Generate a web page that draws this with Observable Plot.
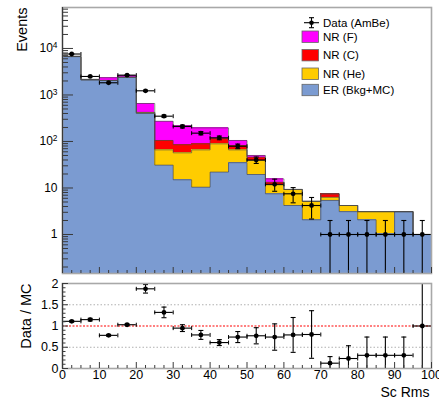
<!DOCTYPE html>
<html>
<head>
<meta charset="utf-8">
<script src="https://cdn.jsdelivr.net/npm/d3@7"></script>
<script src="https://cdn.jsdelivr.net/npm/@observablehq/plot@0.6"></script>
<style>
  html, body { margin: 0; padding: 0; background: #fff; }
  #wrap { position: relative; width: 439px; height: 401px; overflow: hidden; font-family: "Liberation Sans", Arial, Helvetica, sans-serif; }
  #top, #bot { position: absolute; left: 0; }
  #top { top: 0; }
  #bot { top: 274px; }
  #legend { position: absolute; left: 0; top: 0; width: 439px; height: 120px; pointer-events: none; }
</style>
</head>
<body>
<div id="wrap">
  <div id="top"></div>
  <div id="bot"></div>
  <svg id="legend" width="439" height="120"></svg>
</div>
<script>
// ---------------- data ----------------
const binLow = [0, 5, 10, 15, 20, 25, 30, 35, 40, 45, 50, 55, 60, 65, 70, 75, 80, 85, 90, 95];
const binWidth = 5;
const erBkgMC = [6700, 2120, 2050, 2400, 400, 31, 15, 10.4, 22, 35, 19.5, 7.5, 4.2, 2.07, 5.4, 3.1, 2.07, 1.03, 3.1, 1.0];
const nrHe    = [0, 0, 0, 0, 15, 35, 42, 55.6, 67, 31, 19.5, 4.2, 5.1, 3.1, 0.9, 1.1, 1.03, 2.07, 0, 0];
const nrC     = [0, 0, 0, 0, 8, 39, 28, 23, 26, 16, 7, 1.6, 0, 0, 1.2, 0, 0, 0, 0, 0];
const nrF     = [150, 50, 300, 190, 233, 167, 133, 107, 81, 23, 4, 2.4, 0, 0, 0, 0, 0, 0, 0, 0];
const dataAmBe = [7600, 2500, 1830, 2670, 1230, 350, 210, 151, 120, 79, 40, 12, 7.5, 4.2, 1, 1, 1, 1, 1, 1];
const dataErr  = [87, 50, 43, 52, 35, 19, 14.5, 12.3, 11, 9, 6.3, 3.5, 2.7, 2.05, 1, 1, 1, 1, 1, 1];
const ratio    = [1.11, 1.15, 0.78, 1.03, 1.875, 1.32, 0.95, 0.79, 0.61, 0.74, 0.77, 0.74, 0.79, 0.8, 0.125, 0.235, 0.31, 0.31, 0.31, 1.0];
const ratioErr = [0.02, 0.03, 0.02, 0.02, 0.1, 0.125, 0.08, 0.105, 0.07, 0.13, 0.19, 0.31, 0.41, 0.56, 0.155, 0.3, 0.43, 0.43, 0.43, 1.05];

const yTickValues = [1, 10, 100, 1000, 10000];
const yTickLabels = ["1", "10", "10^2", "10^3", "10^4"];
const xTickValues = [0, 10, 20, 30, 40, 50, 60, 70, 80, 90, 100];
const xTickLabels = ["0", "10", "20", "30", "40", "50", "60", "70", "80", "90", "100"];
const rTickValues = [0, 0.5, 1, 1.5, 2];
const rTickLabels = ["0", "0.5", "1", "1.5", "2"];

const seriesNames = ["Data (AmBe)", "NR (F)", "NR (C)", "NR (He)", "ER (Bkg+MC)"];
const seriesColors = ["#000000", "#ff00ff", "#ff0000", "#ffcc00", "#7b9bd1"];

// ---------------- styling constants ----------------
const FONT = "\"Liberation Sans\", Arial, Helvetica, sans-serif";
const W = 439, ML = 62, MR = 8;
const yMin = 0.145, yMax = 76000;
const idx = binLow.map((_, i) => i);

// stacking
const s0 = idx.map(i => erBkgMC[i]);
const s1 = idx.map(i => s0[i] + nrHe[i]);
const s2 = idx.map(i => s1[i] + nrC[i]);
const s3 = idx.map(i => s2[i] + nrF[i]);
const layers = [
  {bottom: idx.map(() => yMin), top: s0, color: seriesColors[4]},
  {bottom: s0, top: s1, color: seriesColors[3]},
  {bottom: s1, top: s2, color: seriesColors[2]},
  {bottom: s2, top: s3, color: seriesColors[1]}
];
function stepPoints(top) {
  const pts = idx.map(i => ({x: binLow[i], y: top[i]}));
  pts.push({x: binLow[binLow.length - 1] + binWidth, y: top[top.length - 1]});
  return pts;
}

// custom symbols for error bar caps
const hbar = {draw(ctx, size) { const r = Math.sqrt(size / Math.PI); ctx.moveTo(-r, 0); ctx.lineTo(r, 0); }};
const vbar = {draw(ctx, size) { const r = Math.sqrt(size / Math.PI); ctx.moveTo(0, -r); ctx.lineTo(0, r); }};

// tick helpers
const logMinor = [];
for (let e = -1; e <= 4; e++) for (let m = 2; m <= 9; m++) { const v = m * Math.pow(10, e); if (v > yMin && v < yMax) logMinor.push(v); }
const xMinor = d3.range(0, 100.01, 2.5).filter(v => v % 10 !== 0);
const rMinor = d3.range(0, 2.001, 0.1).map(v => +v.toFixed(2)).filter(v => Math.abs(v * 2 - Math.round(v * 2)) > 1e-6);

// ---------------- top panel ----------------
const topH = 274, topMT = 7, topMB = 1;
const topInnerW = W - ML - MR, topInnerH = topH - topMT - topMB;
const center = i => binLow[i] + binWidth / 2;

const topMarks = [];
layers.forEach(L => {
  topMarks.push(Plot.rect(idx, {x1: i => binLow[i], x2: i => binLow[i] + binWidth, y1: i => L.bottom[i], y2: i => L.top[i], fill: L.color, shapeRendering: "crispEdges"}));
});
layers.forEach(L => {
  topMarks.push(Plot.line(stepPoints(L.top), {x: "x", y: "y", curve: "step-after", stroke: "#4a4a4a", strokeWidth: 0.9, strokeOpacity: 0.75}));
});
// data error bars
topMarks.push(Plot.ruleY(idx, {y: i => dataAmBe[i], x1: i => binLow[i], x2: i => binLow[i] + binWidth, stroke: "#000", strokeWidth: 1.1}));
topMarks.push(Plot.ruleX(idx, {x: center, y1: i => Math.max(dataAmBe[i] - dataErr[i], 1e-3), y2: i => dataAmBe[i] + dataErr[i], stroke: "#000", strokeWidth: 1.1, clip: true}));
topMarks.push(Plot.dot(idx, {x: center, y: i => dataAmBe[i] + dataErr[i], symbol: hbar, r: 2.5, stroke: "#000", strokeWidth: 1.1}));
topMarks.push(Plot.dot(idx.filter(i => dataAmBe[i] - dataErr[i] > yMin), {x: center, y: i => dataAmBe[i] - dataErr[i], symbol: hbar, r: 2.5, stroke: "#000", strokeWidth: 1.1}));
topMarks.push(Plot.dot(idx, {x: i => binLow[i], y: i => dataAmBe[i], symbol: vbar, r: 2, stroke: "#000", strokeWidth: 1}));
topMarks.push(Plot.dot(idx, {x: i => binLow[i] + binWidth, y: i => dataAmBe[i], symbol: vbar, r: 2, stroke: "#000", strokeWidth: 1}));
topMarks.push(Plot.dot(idx, {x: center, y: i => dataAmBe[i], r: 2.4, fill: "#000"}));
// frame
topMarks.push(Plot.frame({stroke: "#a8a8a8", strokeWidth: 1.6}));
topMarks.push(Plot.ruleX([0], {stroke: "#3a3a3a", strokeWidth: 1.2}));
// inward ticks
topMarks.push(Plot.tickY(yTickValues, {y: d => d, insetRight: topInnerW - 11, stroke: "#3a3a3a"}));
topMarks.push(Plot.tickY(logMinor, {y: d => d, insetRight: topInnerW - 6, stroke: "#3a3a3a"}));
topMarks.push(Plot.tickX(xTickValues, {x: d => d, insetTop: topInnerH - 6, stroke: "#3a3a3a"}));
topMarks.push(Plot.tickX(xMinor, {x: d => d, insetTop: topInnerH - 3, stroke: "#3a3a3a"}));
// labels
const yLabMap = new Map(yTickValues.map((v, i) => [v, yTickLabels[i]]));
topMarks.push(Plot.axisY({ticks: yTickValues, tickFormat: d => yLabMap.get(d), tickSize: 0, tickPadding: 5, fontSize: 12, anchor: "left", label: null}));
topMarks.push(Plot.text(["Events"], {frameAnchor: "top-left", rotate: -90, textAnchor: "end", dx: -46, fontSize: 14.5}));

const topPlot = Plot.plot({
  width: W, height: topH, marginTop: topMT, marginBottom: topMB, marginLeft: ML, marginRight: MR,
  x: {domain: [0, 100], axis: null},
  y: {type: "log", domain: [yMin, yMax], axis: null},
  style: {fontFamily: FONT, background: "transparent", color: "#000", overflow: "visible"},
  marks: topMarks
});
// superscripts for 10^n labels
d3.select(topPlot).selectAll("text").each(function() {
  const t = this.textContent;
  const m = /^10\^(\d+)$/.exec(t);
  if (m) {
    const sel = d3.select(this);
    sel.text("10");
    sel.append("tspan").attr("dy", "-0.5em").attr("font-size", "0.7em").text(m[1]);
  }
});
document.getElementById("top").appendChild(topPlot);

// ---------------- bottom panel ----------------
const botH = 127, botMT = 9, botMB = 33;
const botInnerH = botH - botMT - botMB;
const xLabMap = new Map(xTickValues.map((v, i) => [v, xTickLabels[i]]));
const rLabMap = new Map(rTickValues.map((v, i) => [v, rTickLabels[i]]));
const botMarks = [
  Plot.ruleY([0.5, 1.5], {stroke: "#b0b0b0", strokeDasharray: "1.5,2", strokeWidth: 1}),
  Plot.ruleY([1], {stroke: "#ff0000", strokeDasharray: "2,1.5", strokeWidth: 1.1}),
  Plot.ruleY(idx, {y: i => ratio[i], x1: i => binLow[i], x2: i => binLow[i] + binWidth, stroke: "#000", strokeWidth: 1.1}),
  Plot.ruleX(idx, {x: center, y1: i => Math.max(ratio[i] - ratioErr[i], 0), y2: i => Math.min(ratio[i] + ratioErr[i], 2), stroke: "#000", strokeWidth: 1.1}),
  Plot.dot(idx.filter(i => ratio[i] + ratioErr[i] < 2), {x: center, y: i => ratio[i] + ratioErr[i], symbol: hbar, r: 2.5, stroke: "#000", strokeWidth: 1.1}),
  Plot.dot(idx.filter(i => ratio[i] - ratioErr[i] > 0), {x: center, y: i => ratio[i] - ratioErr[i], symbol: hbar, r: 2.5, stroke: "#000", strokeWidth: 1.1}),
  Plot.dot(idx, {x: i => binLow[i], y: i => ratio[i], symbol: vbar, r: 2, stroke: "#000", strokeWidth: 1}),
  Plot.dot(idx, {x: i => binLow[i] + binWidth, y: i => ratio[i], symbol: vbar, r: 2, stroke: "#000", strokeWidth: 1}),
  Plot.dot(idx, {x: center, y: i => ratio[i], r: 2.4, fill: "#000"}),
  Plot.frame({stroke: "#a8a8a8", strokeWidth: 1.6}),
  Plot.ruleX([0], {stroke: "#3a3a3a", strokeWidth: 1.2}),
  Plot.tickY(rTickValues, {y: d => d, insetRight: topInnerW - 6, stroke: "#3a3a3a"}),
  Plot.tickY(rMinor, {y: d => d, insetRight: topInnerW - 3.5, stroke: "#3a3a3a"}),
  Plot.tickX(xTickValues, {x: d => d, insetTop: botInnerH - 6, stroke: "#3a3a3a"}),
  Plot.tickX(xMinor, {x: d => d, insetTop: botInnerH - 3, stroke: "#3a3a3a"}),
  Plot.axisY({ticks: rTickValues, tickFormat: d => rLabMap.get(d), tickSize: 0, tickPadding: 4, fontSize: 12.5, anchor: "left", label: null}),
  Plot.axisX({ticks: xTickValues, tickFormat: d => xLabMap.get(d), tickSize: 0, tickPadding: 2, fontSize: 12.5, anchor: "bottom", label: null}),
  Plot.text(["Data / MC"], {frameAnchor: "top-left", rotate: -90, textAnchor: "end", dx: -41.5, fontSize: 14.5}),
  Plot.text(["Sc Rms"], {frameAnchor: "bottom-right", textAnchor: "end", lineAnchor: "bottom", dx: -2, dy: 28, fontSize: 14})
];
const botPlot = Plot.plot({
  width: W, height: botH, marginTop: botMT, marginBottom: botMB, marginLeft: ML, marginRight: MR,
  x: {domain: [0, 100], axis: null},
  y: {domain: [0, 2], axis: null},
  style: {fontFamily: FONT, background: "transparent", color: "#000", overflow: "visible"},
  marks: botMarks
});
document.getElementById("bot").appendChild(botPlot);

// ---------------- legend ----------------
const leg = d3.select("#legend");
const legX = 302, legTextX = 323;
const legRows = [22.7, 36.7, 55.2, 73.7, 90.0];
leg.style("font-family", FONT);
const g0 = leg.append("g").attr("stroke", "#000").attr("stroke-width", 1.1);
g0.append("line").attr("x1", legX + 2).attr("x2", legX + 17).attr("y1", legRows[0]).attr("y2", legRows[0]);
g0.append("line").attr("x1", legX + 9.5).attr("x2", legX + 9.5).attr("y1", legRows[0] - 5).attr("y2", legRows[0] + 5);
g0.append("line").attr("x1", legX + 7).attr("x2", legX + 12).attr("y1", legRows[0] - 5).attr("y2", legRows[0] - 5);
g0.append("line").attr("x1", legX + 7).attr("x2", legX + 12).attr("y1", legRows[0] + 5).attr("y2", legRows[0] + 5);
leg.append("circle").attr("cx", legX + 9.5).attr("cy", legRows[0]).attr("r", 2.3).attr("fill", "#000");
seriesNames.forEach((name, k) => {
  if (k > 0) {
    leg.append("rect").attr("x", legX).attr("y", legRows[k] - 5.7).attr("width", 16.5).attr("height", 11.4)
      .attr("fill", seriesColors[k]).attr("stroke", "#666").attr("stroke-width", 0.8);
  }
  leg.append("text").attr("x", legTextX).attr("y", legRows[k]).attr("dy", "0.35em")
    .attr("font-size", 11.5).attr("fill", "#000").text(name);
});
</script>
</body>
</html>
